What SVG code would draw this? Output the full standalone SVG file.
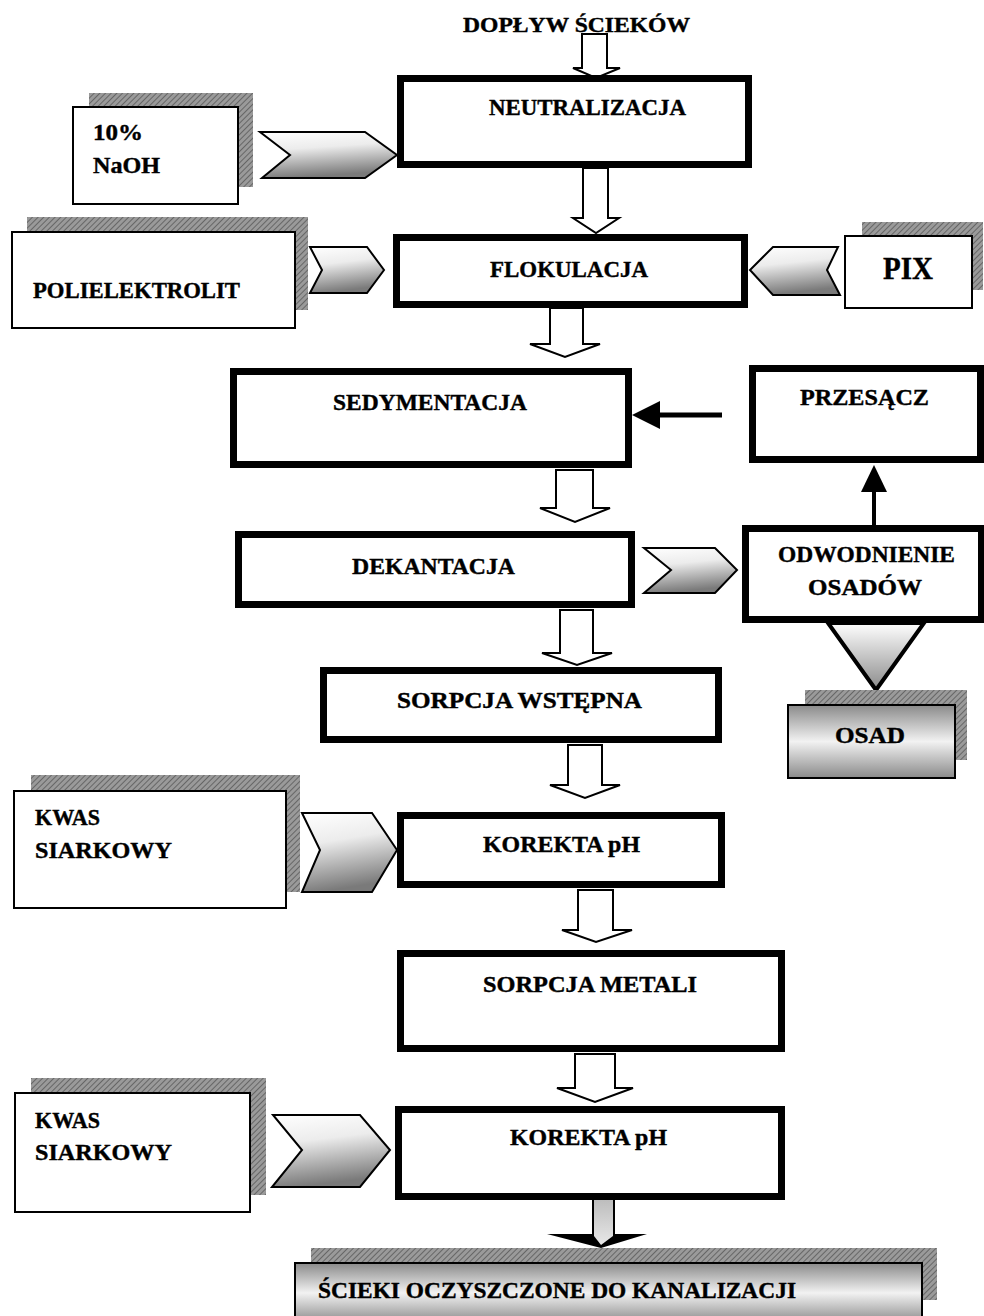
<svg xmlns="http://www.w3.org/2000/svg" width="984" height="1316" viewBox="0 0 984 1316">
<defs>
<pattern id="hatch" width="4" height="4" patternUnits="userSpaceOnUse" patternTransform="rotate(45)">
<rect width="4" height="4" fill="#9a9a9a"/>
<line x1="0" y1="0" x2="0" y2="4" stroke="#555" stroke-width="1.5"/>
</pattern>
<linearGradient id="chev" x1="0" y1="0" x2="0.2" y2="1">
<stop offset="0" stop-color="#ffffff"/>
<stop offset="0.4" stop-color="#ececec"/>
<stop offset="1" stop-color="#7a7a7a"/>
</linearGradient>
<linearGradient id="band" x1="0" y1="0" x2="0" y2="1">
<stop offset="0" stop-color="#8a8a8a"/>
<stop offset="0.5" stop-color="#f2f2f2"/>
<stop offset="1" stop-color="#8a8a8a"/>
</linearGradient>
<linearGradient id="tri" x1="0" y1="0" x2="0" y2="1">
<stop offset="0" stop-color="#ffffff"/>
<stop offset="1" stop-color="#8a8a8a"/>
</linearGradient>
<linearGradient id="shaft" x1="0" y1="0" x2="0" y2="1">
<stop offset="0" stop-color="#bdbdbd"/>
<stop offset="1" stop-color="#e8e8e8"/>
</linearGradient>
</defs>
<style>
.proc{fill:#fff;stroke:#000;stroke-width:7}
.inp{fill:#fff;stroke:#000;stroke-width:2}
.shd{fill:url(#hatch);stroke:none}
.hol{fill:#fff;stroke:#000;stroke-width:2;stroke-linejoin:miter}
.chev{fill:url(#chev);stroke:#000;stroke-width:2}
text{font-family:"Liberation Serif","Times New Roman",serif;font-weight:bold;fill:#000;stroke:#000;stroke-width:0.4}
.t{font-size:23px}
.c{text-anchor:middle}
</style>
<rect width="984" height="1316" fill="#fff"/>

<g id="dod">
<text class="t" x="463" y="32" textLength="227" lengthAdjust="spacingAndGlyphs" style="font-size:22px">DOPŁYW ŚCIEKÓW</text>
</g>

<g id="connectors">
<polygon class="hol" points="582,34 607,34 607,68 620,68 596,78 573,68 582,68"/>
<polygon class="hol" points="583,168 608,168 608,218 619,218 596,233 573,218 583,218"/>
<polygon class="hol" points="550,308 583,308 583,344 600,344 565,357 530,344 550,344"/>
<polygon class="hol" points="556,470 593,470 593,508 610,508 575,522 540,508 556,508"/>
<polygon class="hol" points="560,610 593,610 593,653 612,653 577,665 542,653 560,653"/>
<polygon class="hol" points="568,745 602,745 602,785 620,785 585,798 550,785 568,785"/>
<polygon class="hol" points="578,890 613,890 613,930 632,930 596,942 562,930 578,930"/>
<polygon class="hol" points="575,1054 615,1054 615,1088 633,1088 595,1102 557,1088 575,1088"/>
<polygon points="592,1200 615,1200 615,1234 647,1234 601,1248 547,1234 592,1234" fill="#000"/>
<polygon points="594,1200 613,1200 613,1236 601,1245 594,1236" fill="url(#shaft)"/>
<polygon class="chev" points="260,132 365,132 397,155 365,178 262,178 290,155"/>
<polygon class="chev" points="310,247 367,247 384,270 367,293 310,293 322,270"/>
<polygon class="chev" points="838,247 773,247 750,270 773,295 840,295 827,270"/>
<polygon class="chev" points="644,548 715,548 737,570 715,593 644,593 671,570"/>
<polygon class="chev" points="302,813 372,813 397,850 372,892 302,892 320,850"/>
<polygon class="chev" points="273,1115 360,1115 390,1150 360,1187 272,1187 302,1150"/>
<polygon points="828,623 924,623 876,690" fill="url(#tri)" stroke="#000" stroke-width="4" stroke-linejoin="miter"/>
<line x1="722" y1="415" x2="655" y2="415" stroke="#000" stroke-width="5"/>
<polygon points="632,415 660,401 660,429" fill="#000"/>
<line x1="874" y1="527" x2="874" y2="488" stroke="#000" stroke-width="4"/>
<polygon points="874,465 861,492 887,492" fill="#000"/>
</g>

<g id="naoh">
<rect class="shd" x="89" y="93" width="164" height="94"/>
<rect class="inp" x="73" y="107" width="165" height="97"/>
<text class="t" x="93" y="140" textLength="50" lengthAdjust="spacingAndGlyphs">10%</text>
<text class="t" x="93" y="173" textLength="67" lengthAdjust="spacingAndGlyphs">NaOH</text>
</g>

<g id="neutralizacja">
<rect class="proc" x="400.5" y="78.5" width="348" height="86"/>
<text class="t" x="489" y="115" textLength="197" lengthAdjust="spacingAndGlyphs">NEUTRALIZACJA</text>
</g>

<g id="polielektrolit">
<rect class="shd" x="27" y="217" width="281" height="93"/>
<rect class="inp" x="12" y="232" width="283" height="96"/>
<text class="t" x="33" y="298" textLength="207" lengthAdjust="spacingAndGlyphs">POLIELEKTROLIT</text>
</g>

<g id="flokulacja">
<rect class="proc" x="396.5" y="237.5" width="348" height="67"/>
<text class="t" x="490" y="277" textLength="158" lengthAdjust="spacingAndGlyphs">FLOKULACJA</text>
</g>

<g id="pix">
<rect class="shd" x="862" y="222" width="121" height="68"/>
<rect class="inp" x="845" y="236" width="127" height="72"/>
<text x="883" y="279" textLength="50" lengthAdjust="spacingAndGlyphs" style="font-size:32px">PIX</text>
</g>

<g id="sedymentacja">
<rect class="proc" x="233.5" y="371.5" width="395" height="93"/>
<text class="t" x="333" y="410" textLength="194" lengthAdjust="spacingAndGlyphs">SEDYMENTACJA</text>
</g>

<g id="przesacz">
<rect class="proc" x="752.5" y="368.5" width="228" height="91"/>
<text class="t" x="800" y="405" textLength="129" lengthAdjust="spacingAndGlyphs">PRZESĄCZ</text>
</g>

<g id="dekantacja">
<rect class="proc" x="238.5" y="534.5" width="393" height="70"/>
<text class="t" x="352" y="574" textLength="163" lengthAdjust="spacingAndGlyphs">DEKANTACJA</text>
</g>

<g id="odwodnienie">
<rect class="proc" x="745.5" y="528.5" width="236" height="91"/>
<text class="t" x="778" y="562" textLength="177" lengthAdjust="spacingAndGlyphs">ODWODNIENIE</text>
<text class="t" x="808" y="595" textLength="114" lengthAdjust="spacingAndGlyphs">OSADÓW</text>
</g>

<g id="osad">
<rect class="shd" x="805" y="690" width="162" height="70"/>
<rect x="788" y="705" width="167" height="73" fill="url(#band)" stroke="#000" stroke-width="2"/>
<text class="t" x="835" y="743" textLength="70" lengthAdjust="spacingAndGlyphs">OSAD</text>
</g>

<g id="sorpcja-wstepna">
<rect class="proc" x="323.5" y="670.5" width="395" height="69"/>
<text class="t" x="397" y="708" textLength="245" lengthAdjust="spacingAndGlyphs">SORPCJA  WSTĘPNA</text>
</g>

<g id="kwas1">
<rect class="shd" x="31" y="775" width="269" height="117"/>
<rect class="inp" x="14" y="791" width="272" height="117"/>
<text class="t" x="35" y="825" textLength="65" lengthAdjust="spacingAndGlyphs">KWAS</text>
<text class="t" x="35" y="858" textLength="137" lengthAdjust="spacingAndGlyphs">SIARKOWY</text>
</g>

<g id="korekta1">
<rect class="proc" x="400.5" y="815.5" width="321" height="69"/>
<text class="t" x="483" y="852" textLength="157" lengthAdjust="spacingAndGlyphs">KOREKTA  pH</text>
</g>

<g id="sorpcja-metali">
<rect class="proc" x="400.5" y="953.5" width="381" height="95"/>
<text class="t" x="483" y="992" textLength="214" lengthAdjust="spacingAndGlyphs">SORPCJA METALI</text>
</g>

<g id="kwas2">
<rect class="shd" x="31" y="1078" width="235" height="117"/>
<rect class="inp" x="15" y="1093" width="235" height="119"/>
<text class="t" x="35" y="1128" textLength="65" lengthAdjust="spacingAndGlyphs">KWAS</text>
<text class="t" x="35" y="1160" textLength="137" lengthAdjust="spacingAndGlyphs">SIARKOWY</text>
</g>

<g id="korekta2">
<rect class="proc" x="398.5" y="1109.5" width="383" height="87"/>
<text class="t" x="510" y="1145" textLength="157" lengthAdjust="spacingAndGlyphs">KOREKTA  pH</text>
</g>

<g id="scieki">
<rect class="shd" x="311" y="1248" width="626" height="52"/>
<rect x="295" y="1263" width="627" height="60" fill="url(#band)" stroke="#000" stroke-width="2"/>
<text class="t" x="318" y="1298" textLength="478" lengthAdjust="spacingAndGlyphs">ŚCIEKI OCZYSZCZONE DO KANALIZACJI</text>
</g>
</svg>
